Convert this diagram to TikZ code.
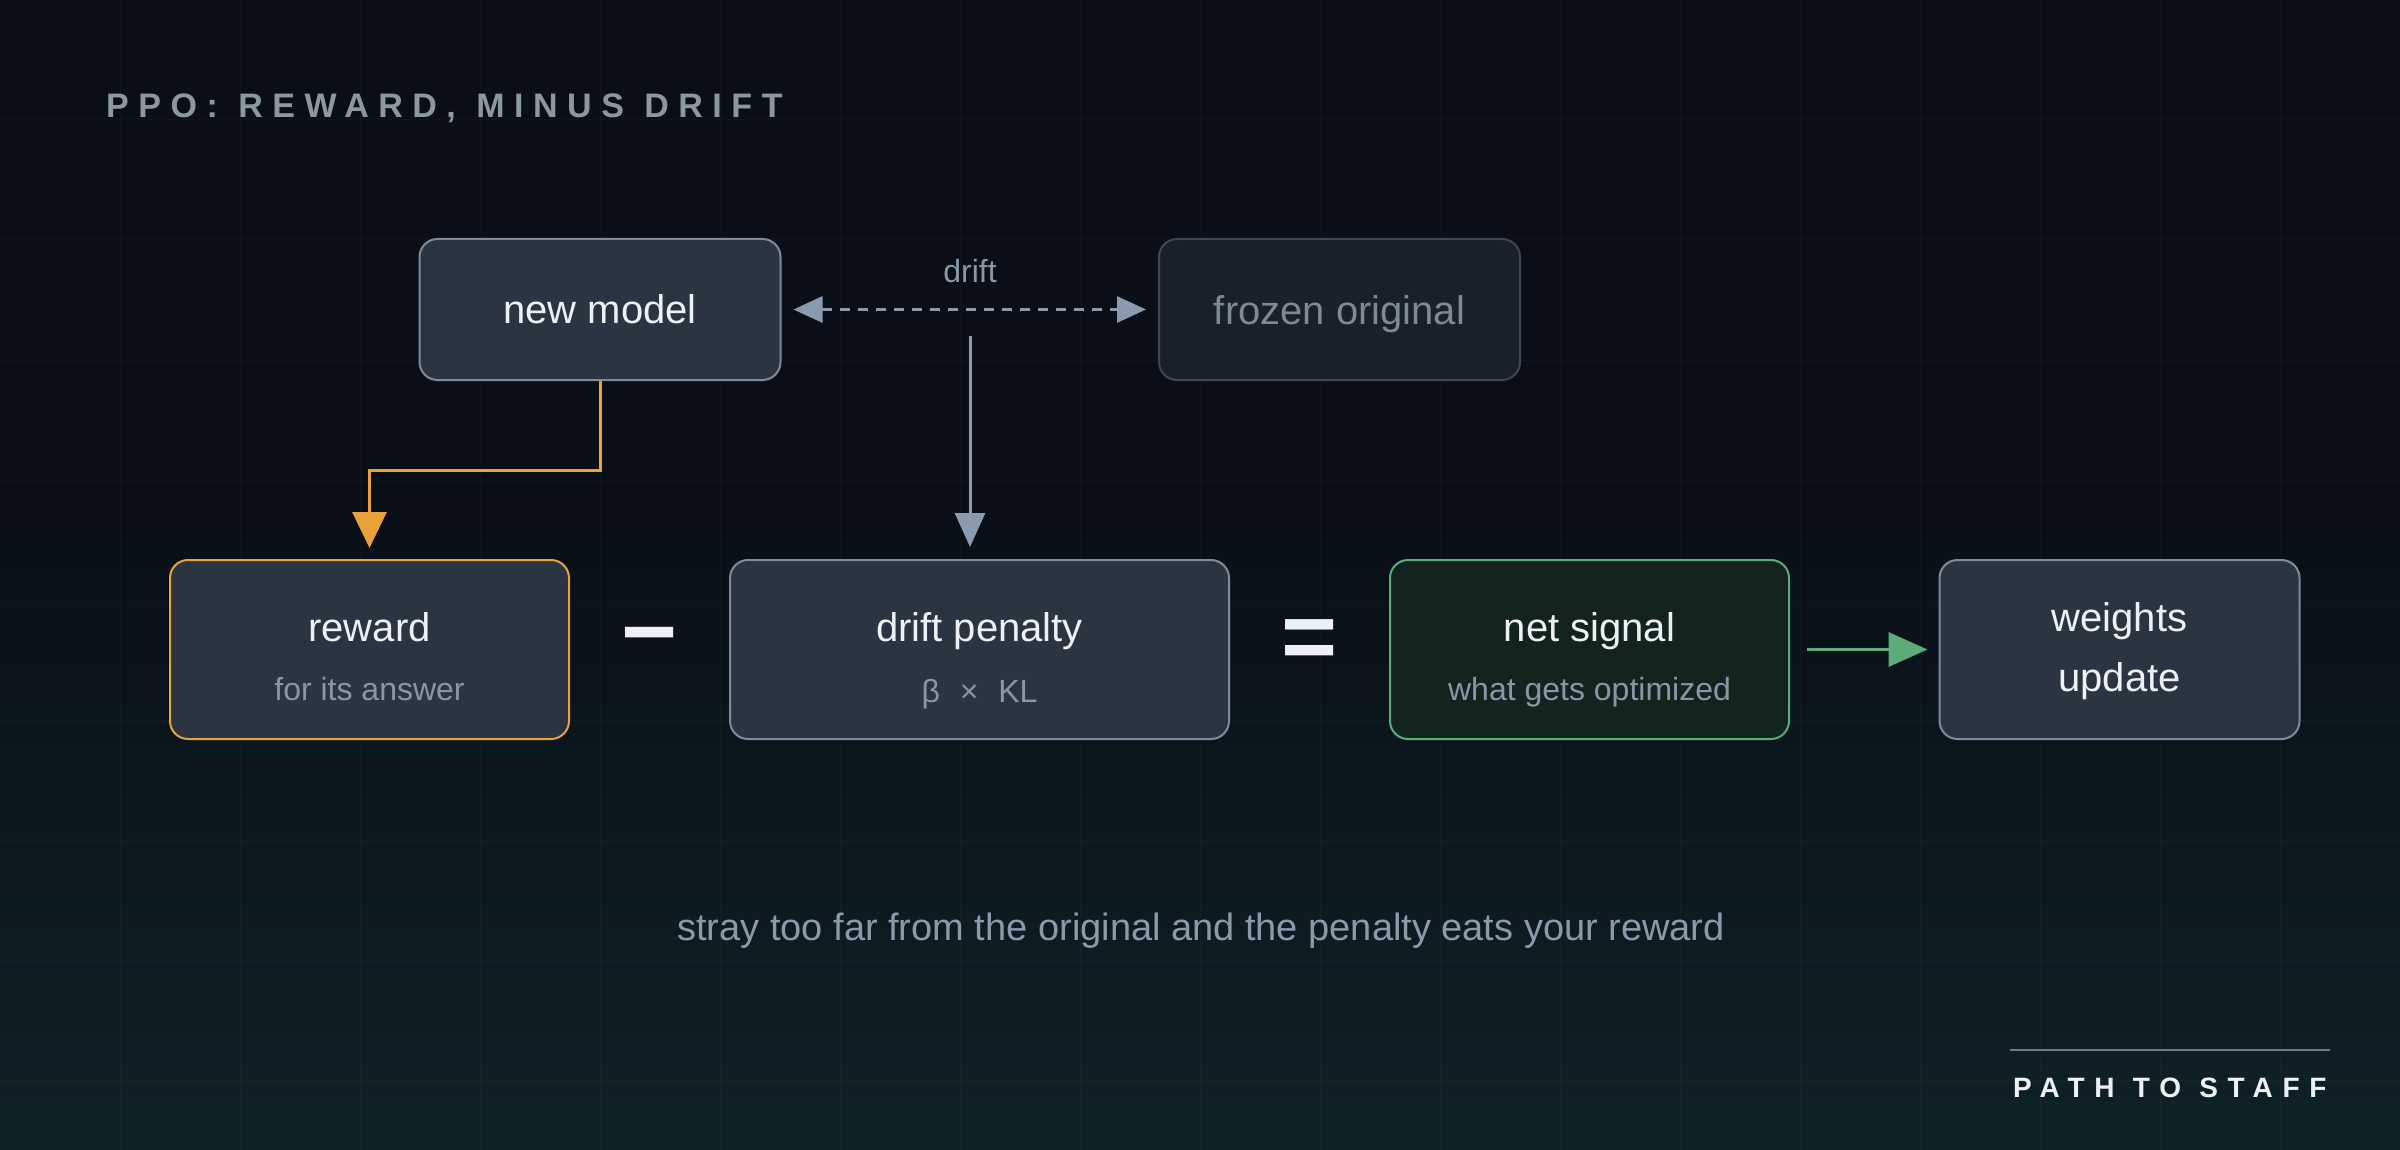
\documentclass[tikz,border=0pt]{standalone}
\usepackage{fontspec}
\setmainfont{Liberation Sans}
\newfontfamily\trackfont[LetterSpace=28]{Liberation Sans}
\newfontfamily\brandfont[LetterSpace=35]{Liberation Sans}
\usetikzlibrary{arrows.meta}
\definecolor{bgtop}{HTML}{0A0F17}
\definecolor{bgbot}{HTML}{0E2226}
\definecolor{boxfill}{HTML}{2B3542}
\definecolor{boxline}{HTML}{7D8B9C}
\definecolor{frzfill}{HTML}{19202A}
\definecolor{frzline}{HTML}{3C4654}
\definecolor{frztext}{HTML}{7D8995}
\definecolor{orng}{HTML}{E9A23B}
\definecolor{grn}{HTML}{5BAB7B}
\definecolor{netfill}{HTML}{13241E}
\definecolor{arrgray}{HTML}{8A9BB0}
\definecolor{subtext}{HTML}{8797A8}
\definecolor{maintext}{HTML}{EDF1F5}
\definecolor{titlecol}{HTML}{8B999F}
\definecolor{foottext}{HTML}{8A9AAB}
\definecolor{brandline}{HTML}{6B7B8A}
\begin{document}
\begin{tikzpicture}[x=1pt,y=-1pt,
  box/.style={draw=boxline, fill=boxfill, rounded corners=18pt, line width=2pt, inner sep=0pt},
  lbl/.style={anchor=base, inner sep=0pt, text=maintext, font=\fontsize{40}{48}\selectfont},
  sublbl/.style={anchor=base, inner sep=0pt, text=subtext, font=\fontsize{32}{38}\selectfont},
  opsign/.style={anchor=center, inner sep=0pt, text=maintext, font=\fontsize{96}{110}\selectfont\bfseries},
  conn/.style={line width=3pt, draw=arrgray}
]
\useasboundingbox (0,0) rectangle (2400,1150);
% background
\fill[bgtop] (0,0) rectangle (2400,1150);
\shade[top color=bgtop, bottom color=bgbot] (0,520) rectangle (2400,1150);
\foreach \gx in {120,240,...,2280} \draw[white, opacity=0.025, line width=1pt] (\gx,0) -- (\gx,1150);
\foreach \gy in {120,240,...,1080} \draw[white, opacity=0.025, line width=1pt] (0,\gy) -- (2400,\gy);

% title
\node[anchor=base west, inner sep=0pt, text=titlecol, font=\fontsize{34}{40}\selectfont\trackfont\bfseries] (title) at (106,118) {PPO:\hspace{0.6em}REWARD,\hspace{0.6em}MINUS\hspace{0.6em}DRIFT};

% top boxes
\node[box, minimum width=361pt, minimum height=141pt] (new) at (600,309.5) {};
\node[box, draw=frzline, fill=frzfill, minimum width=361pt, minimum height=141pt] (frz) at (1339.5,309.5) {};
\node[lbl] (newt) at (600,323) {new model};
\node[lbl, text=frztext] (frzt) at (1339.5,324) {frozen original};

% bottom boxes
\node[box, draw=orng, minimum width=399pt, minimum height=179pt] (rew) at (369.5,649.5) {};
\node[box, minimum width=499pt, minimum height=179pt] (pen) at (979.5,649.5) {};
\node[box, draw=grn, fill=netfill, minimum width=399pt, minimum height=179pt] (net) at (1589.5,649.5) {};
\node[box, minimum width=360pt, minimum height=179pt] (wts) at (2119.5,649.5) {};

\node[lbl] (rewt) at (369.5,641) {reward};
\node[sublbl] (rews) at (369.5,700) {for its answer};
\node[lbl] (pent) at (979.5,641) {drift penalty};
\node[sublbl] (pens) at (979.5,702) {β\hspace{0.62em}×\hspace{0.62em}KL};
\node[lbl] (nett) at (1589.5,641) {net signal};
\node[sublbl] (nets) at (1589.5,700) {what gets optimized};
\node[lbl] (wtst) at (2119.5,631) {weights};
\node[lbl] (wtsu) at (2119.5,691) {update};

% operators
\node[opsign] (minus) at (650,646) {−};
\node[opsign] (eq) at (1310,645) {=};

% drift connectors
\node[anchor=base, inner sep=0pt, text=subtext, font=\fontsize{32}{38}\selectfont] (drift) at (970,283) {drift};
\draw[conn, dash pattern=on 10pt off 8pt, {Triangle[length=29pt,width=26pt]}-{Triangle[length=29pt,width=26pt]}, shorten <=12pt, shorten >=12pt] (new.east) -- (frz.west);
\coordinate (dmid) at (970,336);
\draw[conn, -{Triangle[length=34pt,width=30pt]}, shorten >=12pt] (dmid) -- (dmid |- pen.north);
\draw[line width=3pt, draw=orng, -{Triangle[length=36pt,width=34pt]}, shorten >=11pt] (new.south) -- ++(0,89) -| (rew.north);
\draw[line width=3.5pt, draw=grn, -{Triangle[length=39pt,width=34pt]}, shorten <=17pt, shorten >=11pt] (net.east) -- (wts.west);

% footer
\node[anchor=base, inner sep=0pt, text=foottext, font=\fontsize{38}{44}\selectfont] (foot) at (1201,940) {stray too far from the original and the penalty eats your reward};
\coordinate (bl) at (2010,1050);
\coordinate (br) at (2330,1050);
\draw[brandline, line width=2pt] (bl) -- (br);
\node[anchor=base west, inner sep=0pt, text=maintext, font=\fontsize{28}{34}\selectfont\brandfont\bfseries] (brand) at (2013,1097) {PATH\hspace{0.65em}TO\hspace{0.65em}STAFF};
\end{tikzpicture}
\end{document}
